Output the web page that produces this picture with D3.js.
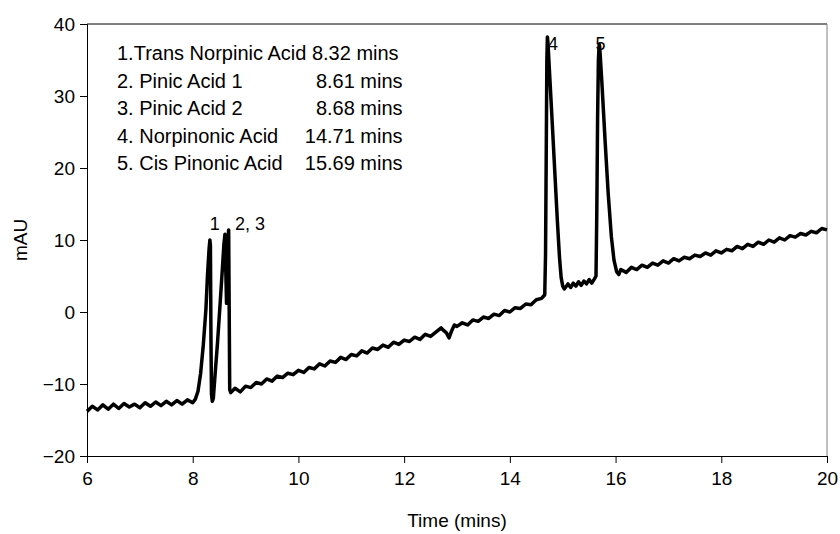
<!DOCTYPE html>
<html>
<head>
<meta charset="utf-8">
<script src="https://cdn.jsdelivr.net/npm/d3@7"></script>
<style>
  body { margin: 0; background: #fff; }
  svg text { font-family: "Liberation Sans", Arial, sans-serif; fill: #000; }
</style>
</head>
<body>
<svg id="chart"></svg>
<script>
// chromatogram trace [time (mins), mAU]
var startBaseline = [[6.0,-13.8],[6.1,-13.1],[6.2,-13.6],[6.3,-12.9],[6.4,-13.5],[6.5,-12.8],[6.6,-13.4],[6.7,-12.7],[6.8,-13.2],[6.9,-12.8],[7.0,-13.3],[7.1,-12.6],[7.2,-13.1],[7.3,-12.5],[7.4,-13.0],[7.5,-12.4],[7.6,-12.9],[7.7,-12.3],[7.8,-12.8],[7.9,-12.2],[8.0,-12.6],[8.05,-12.1]];
var peaks123 = [[8.1,-11.0],[8.15,-8.5],[8.2,-4.6],[8.25,0.4],[8.28,5.2],[8.31,8.8],[8.325,10.0],[8.335,9.2],[8.345,-3.5],[8.355,-11.4],[8.37,-12.4],[8.39,-12.0],[8.42,-9.0],[8.47,-4.2],[8.52,1.3],[8.56,5.9],[8.59,9.4],[8.61,10.8],[8.625,6.0],[8.64,1.2],[8.655,6.2],[8.67,10.4],[8.68,11.4],[8.69,0.5],[8.7,-10.8],[8.72,-11.2]];
var midBaseline = [[8.8,-10.6],[8.9,-11.1],[9.0,-10.3],[9.1,-10.5],[9.2,-9.8],[9.3,-10.0],[9.4,-9.3],[9.5,-9.6],[9.6,-8.9],[9.7,-9.1],[9.8,-8.5],[9.9,-8.7],[10.0,-8.1],[10.1,-8.4],[10.2,-7.7],[10.3,-7.9],[10.4,-7.2],[10.5,-7.5],[10.6,-6.8],[10.7,-7.0],[10.8,-6.3],[10.9,-6.6],[11.0,-5.9],[11.1,-6.1],[11.2,-5.4],[11.3,-5.7],[11.4,-5.0],[11.5,-5.2],[11.6,-4.6],[11.7,-4.9],[11.8,-4.2],[11.9,-4.5],[12.0,-3.9],[12.1,-4.1],[12.2,-3.5],[12.3,-3.8],[12.4,-3.1],[12.5,-3.4],[12.6,-2.8],[12.7,-2.2],[12.75,-2.6],[12.8,-2.9],[12.85,-3.6],[12.9,-2.6],[12.95,-1.8],[13.0,-2.0],[13.1,-1.5],[13.2,-1.8],[13.3,-1.1],[13.4,-1.3],[13.5,-0.7],[13.6,-0.9],[13.7,-0.3],[13.8,-0.5],[13.9,0.2],[14.0,0.0],[14.1,0.6],[14.2,0.5],[14.3,1.1],[14.4,1.0],[14.5,1.7],[14.6,1.9],[14.66,2.4]];
var peak4 = [[14.675,8],[14.69,24],[14.7,35],[14.71,38.2],[14.72,37.5],[14.76,32],[14.8,26.5],[14.85,19.5],[14.9,12.5],[14.94,7.5],[14.97,4.8],[15.0,3.6],[15.03,3.2]];
var gapBaseline = [[15.1,3.9],[15.15,3.4],[15.2,4.0],[15.25,3.6],[15.3,4.2],[15.35,3.7],[15.4,4.3],[15.45,3.9],[15.5,4.5],[15.55,4.0],[15.6,4.6],[15.63,5.0]];
var peak5 = [[15.645,14],[15.66,27],[15.675,35],[15.69,37.2],[15.7,36.8],[15.74,32],[15.8,24],[15.86,16.5],[15.92,10.5],[15.97,7.2],[16.02,5.6],[16.06,5.2]];
var endBaseline = [[16.1,5.9],[16.2,5.5],[16.3,6.2],[16.4,5.9],[16.5,6.5],[16.6,6.2],[16.7,6.8],[16.8,6.5],[16.9,7.1],[17.0,6.8],[17.1,7.4],[17.2,7.1],[17.3,7.6],[17.4,7.4],[17.5,7.9],[17.6,7.7],[17.7,8.2],[17.8,7.9],[17.9,8.5],[18.0,8.2],[18.1,8.7],[18.2,8.5],[18.3,9.1],[18.4,8.8],[18.5,9.4],[18.6,9.1],[18.7,9.7],[18.8,9.4],[18.9,10.0],[19.0,9.7],[19.1,10.3],[19.2,10.0],[19.3,10.6],[19.4,10.4],[19.5,10.9],[19.6,10.7],[19.7,11.2],[19.8,11.0],[19.9,11.6],[20.0,11.4]];

var xTicks = [6, 8, 10, 12, 14, 16, 18, 20];
var yTicks = [-20, -10, 0, 10, 20, 30, 40];

var compoundNames = ["2. Pinic Acid 1", "3. Pinic Acid 2", "4. Norpinonic Acid", "5. Cis Pinonic Acid"];
var retentionTimes = ["8.61 mins", "8.68 mins", "14.71 mins", "15.69 mins"];
var firstLine = "1.Trans Norpinic Acid 8.32 mins";

// peak number labels, placed at [time, mAU]
var peakLabels = [
  { text: "1", t: 8.32, v: 11.4 },
  { text: "2, 3", t: 8.8, v: 11.4 },
  { text: "4", t: 14.72, v: 36.4 },
  { text: "5", t: 15.62, v: 36.4 }
];

var svgWidth = 840, svgHeight = 534;
var margin = { top: 24, right: 13, bottom: 78, left: 87 };
var width = svgWidth - margin.left - margin.right,
    height = svgHeight - margin.top - margin.bottom;

var svg = d3.select("#chart")
    .attr("width", svgWidth)
    .attr("height", svgHeight);

var g = svg.append("g")
    .attr("transform", "translate(" + margin.left + "," + margin.top + ")");

var x = d3.scaleLinear().domain([6, 20]).range([0, width]);
var y = d3.scaleLinear().domain([-20, 40]).range([height, 0]);

// frame: top black, right grey like the original
g.append("line")
    .attr("x1", 0).attr("x2", width).attr("y1", 0).attr("y2", 0)
    .attr("stroke", "#000").attr("stroke-width", 1);
g.append("line")
    .attr("x1", width).attr("x2", width).attr("y1", 0).attr("y2", height)
    .attr("stroke", "#808080").attr("stroke-width", 1);

var xAxis = g.append("g")
    .attr("transform", "translate(0," + height + ")")
    .call(d3.axisBottom(x).tickValues(xTicks).tickSize(7).tickPadding(9).tickFormat(d3.format("d")));

var yAxis = g.append("g")
    .call(d3.axisLeft(y).tickValues(yTicks).tickSize(7).tickPadding(5).tickFormat(d3.format("d")));

[xAxis, yAxis].forEach(function(a) {
  a.select(".domain").attr("stroke", "#000");
  a.selectAll(".tick line").attr("stroke", "#000");
  a.selectAll(".tick text").style("font-size", "19px").attr("fill", "#000");
});

// axis titles
svg.append("text")
    .attr("x", margin.left + width / 2)
    .attr("y", 527)
    .attr("text-anchor", "middle")
    .style("font-size", "19px")
    .text("Time (mins)");

svg.append("text")
    .attr("transform", "translate(27," + (margin.top + height / 2) + ") rotate(-90)")
    .attr("text-anchor", "middle")
    .style("font-size", "19px")
    .text("mAU");

// the trace
var trace = startBaseline.concat(peaks123, midBaseline, peak4, gapBaseline, peak5, endBaseline);

var line = d3.line()
    .x(function(d) { return x(d[0]); })
    .y(function(d) { return y(d[1]); });

g.append("path")
    .datum(trace)
    .attr("d", line)
    .attr("fill", "none")
    .attr("stroke", "#000")
    .attr("stroke-width", 3.5)
    .attr("stroke-linejoin", "round");

// peak numbers
g.selectAll(".peak-label")
    .data(peakLabels)
    .enter()
    .append("text")
    .attr("class", "peak-label")
    .attr("x", function(d) { return x(d.t); })
    .attr("y", function(d) { return y(d.v); })
    .style("font-size", "18px")
    .text(function(d) { return d.text; });

// legend text block
var legendX = 117, legendY = 60, rowH = 27.5;
var legend = svg.append("g");

var first = legend.append("text")
    .attr("x", legendX)
    .attr("y", legendY)
    .style("font-size", "20px")
    .text(firstLine);

var timeRight = legendX + first.node().getComputedTextLength() + 4;

legend.selectAll(".cname")
    .data(compoundNames)
    .enter()
    .append("text")
    .attr("class", "cname")
    .attr("x", legendX)
    .attr("y", function(d, i) { return legendY + (i + 1) * rowH; })
    .style("font-size", "20px")
    .text(function(d) { return d; });

legend.selectAll(".ctime")
    .data(retentionTimes)
    .enter()
    .append("text")
    .attr("class", "ctime")
    .attr("x", timeRight)
    .attr("y", function(d, i) { return legendY + (i + 1) * rowH; })
    .attr("text-anchor", "end")
    .style("font-size", "20px")
    .text(function(d) { return d; });
</script>
</body>
</html>
